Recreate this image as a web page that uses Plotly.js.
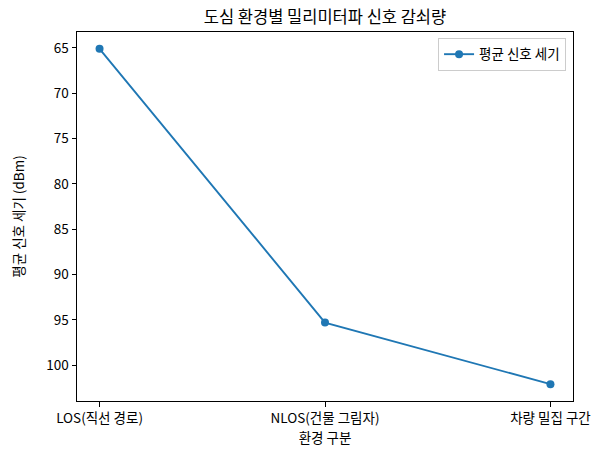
<!DOCTYPE html>
<html>
<head>
<meta charset="utf-8">
<script src="https://cdn.plot.ly/plotly-3.0.1.min.js"></script>
<style>html,body{margin:0;padding:0;background:#fff;}</style>
</head>
<body>
<div id="chart" style="width:603px;height:454px;"></div>
<script>
const categories = ["LOS(직선 경로)", "NLOS(건물 그림자)", "차량 밀집 구간"];
const signalValues = [-65.1, -95.3, -102.1];
const yTickVals = [-65, -70, -75, -80, -85, -90, -95, -100];
const yTickText = ["65", "70", "75", "80", "85", "90", "95", "100"];
const seriesName = "평균 신호 세기";

const font = "'Noto Sans CJK KR', 'Noto Sans', sans-serif";
const fs = 13.5;

const trace = {
  x: categories,
  y: signalValues,
  type: "scatter",
  mode: "lines+markers",
  name: seriesName,
  line: {color: "#1f77b4", width: 1.9},
  marker: {color: "#1f77b4", size: 8}
};

const layout = {
  width: 603,
  height: 454,
  margin: {l: 77, r: 30, t: 32, b: 53},
  paper_bgcolor: "#fff",
  plot_bgcolor: "#fff",
  font: {family: font, size: fs, color: "#000"},
  title: {text: "도심 환경별 밀리미터파 신호 감쇠량", font: {family: font, size: 16.5, color: "#000"}, xref: "paper", x: 0.5, xanchor: "center", y: 0.962, yanchor: "middle"},
  showlegend: true,
  legend: {
    x: 0.986, xanchor: "right", xref: "paper",
    y: 0.984, yanchor: "top", yref: "paper",
    bordercolor: "#cccccc", borderwidth: 1, bgcolor: "rgba(255,255,255,0.8)",
    font: {family: font, size: fs, color: "#000"}
  },
  xaxis: {
    type: "category",
    range: [-0.1, 2.1],
    showgrid: false, zeroline: false,
    showline: true, linecolor: "#000", linewidth: 1, mirror: true,
    ticks: "outside", ticklen: 4.5, tickwidth: 1, tickcolor: "#000",
    tickfont: {family: font, size: fs, color: "#000"},
    title: {text: "환경 구분", font: {family: font, size: fs, color: "#000"}, standoff: 2}
  },
  yaxis: {
    range: [-103.955, -63.245],
    tickmode: "array",
    tickvals: yTickVals,
    ticktext: yTickText,
    showgrid: false, zeroline: false,
    showline: true, linecolor: "#000", linewidth: 1, mirror: true,
    ticks: "outside", ticklen: 4.5, tickwidth: 1, tickcolor: "#000",
    tickfont: {family: font, size: fs, color: "#000"},
    title: {text: "평균 신호 세기 (dBm)", font: {family: font, size: fs, color: "#000"}, standoff: 18}
  }
};

Plotly.newPlot("chart", [trace], layout, {displayModeBar: false, staticPlot: true});
</script>
</body>
</html>
